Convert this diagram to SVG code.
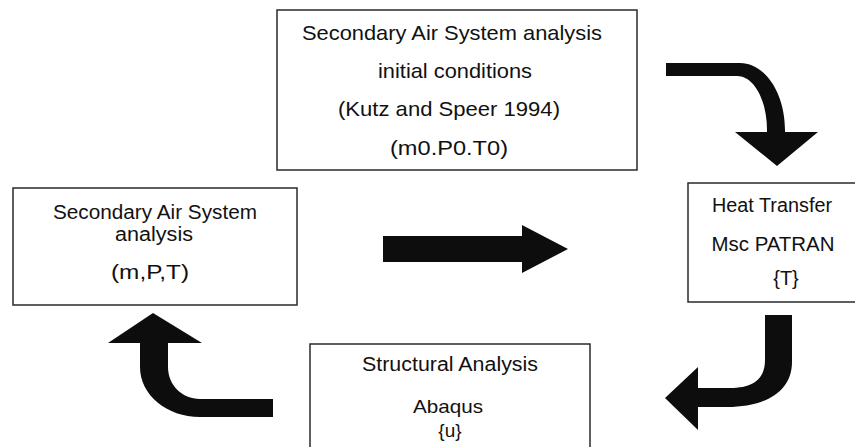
<svg xmlns="http://www.w3.org/2000/svg" width="855" height="447" viewBox="0 0 855 447">
<style>
.box{fill:#fff;stroke:#2a2a2a;stroke-width:1.5}
.t{font-family:"Liberation Sans",Arial,sans-serif;fill:#111;text-anchor:middle}
.arrow{fill:#0d0d0d;stroke:none}
</style>
<rect width="855" height="447" fill="#fff"/>
<g id="node-initial">
<rect class="box" x="277" y="10" width="360" height="160"/>
<text class="t" font-size="21" x="452" y="40" textLength="300" lengthAdjust="spacingAndGlyphs">Secondary Air System analysis</text>
<text class="t" font-size="21" x="455" y="78" textLength="154" lengthAdjust="spacingAndGlyphs">initial conditions</text>
<text class="t" font-size="21" x="449" y="116" textLength="222" lengthAdjust="spacingAndGlyphs">(Kutz and Speer 1994)</text>
<text class="t" font-size="21" x="449" y="155" textLength="118" lengthAdjust="spacingAndGlyphs">(m0.P0.T0)</text>
</g>
<g id="node-sas">
<rect class="box" x="13" y="188" width="284" height="117"/>
<text class="t" font-size="19.5" x="155" y="219" textLength="204" lengthAdjust="spacingAndGlyphs">Secondary Air System</text>
<text class="t" font-size="19.5" x="154" y="241" textLength="78" lengthAdjust="spacingAndGlyphs">analysis</text>
<text class="t" font-size="19.5" x="150" y="279" textLength="78" lengthAdjust="spacingAndGlyphs">(m,P,T)</text>
</g>
<g id="node-heat">
<rect class="box" x="688" y="183" width="180" height="119"/>
<text class="t" font-size="20" x="772" y="212" textLength="120" lengthAdjust="spacingAndGlyphs">Heat Transfer</text>
<text class="t" font-size="20" x="773" y="251" textLength="123" lengthAdjust="spacingAndGlyphs">Msc PATRAN</text>
<text class="t" font-size="20" x="786" y="285">{T}</text>
</g>
<g id="node-struct">
<rect class="box" x="310" y="344" width="280" height="120"/>
<text class="t" font-size="20" x="450" y="371" textLength="176" lengthAdjust="spacingAndGlyphs">Structural Analysis</text>
<text class="t" font-size="19" x="448" y="413" textLength="70" lengthAdjust="spacingAndGlyphs">Abaqus</text>
<text class="t" font-size="19" x="450" y="437">{u}</text>
</g>
<g id="connectors">
<path class="arrow" d="M 666 63 L 740 63 C 765 63 785 93 785 130 L 785 132 L 818 132 L 777 166 L 735 132 L 767 132 L 767 130 C 767 100 754 76 737 76 L 666 76 Z"/>
<path class="arrow" d="M 383 236 L 522 236 L 522 225 L 568 249 L 522 273 L 522 262 L 383 262 Z"/>
<path class="arrow" d="M 765 315 L 792 315 L 792 362 C 792 392 765 407 727 407 L 698 407 L 698 430 L 665 398 L 698 367 L 698 388 L 730 388 C 752 388 765 380 765 360 Z"/>
<path class="arrow" d="M 273 399 L 273 417 L 200 417 C 167 417 140 395 140 367 L 140 343 L 108 343 L 153 313 L 202 343 L 168 343 L 168 367 C 168 385 182 399 200 399 Z"/>
</g>
</svg>
